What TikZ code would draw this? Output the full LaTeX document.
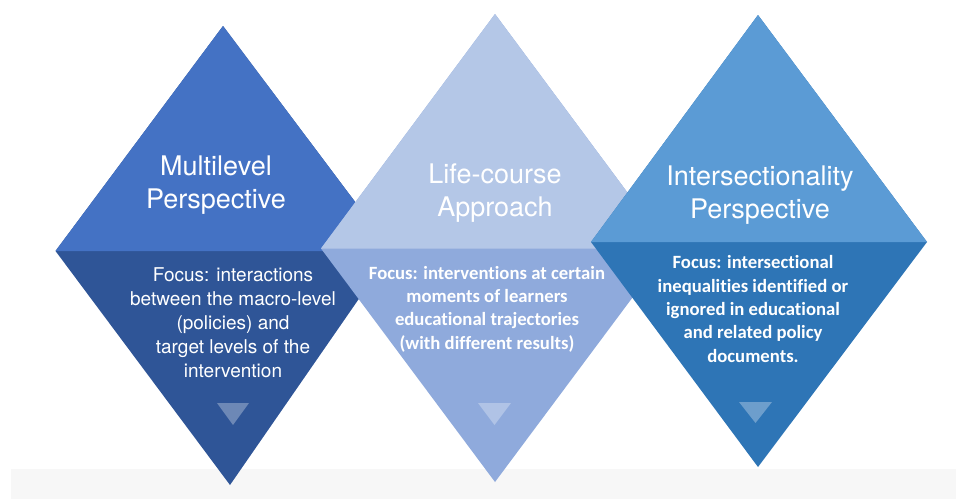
\documentclass[tikz,border=0pt]{standalone}
\usepackage{fontspec}
\setmainfont{TeX Gyre Heros}
\newfontfamily\calib[Ligatures={NoCommon}]{Carlito}
\definecolor{lup}{HTML}{4472C4}
\definecolor{llo}{HTML}{2F5597}
\definecolor{mup}{HTML}{B4C7E7}
\definecolor{mlo}{HTML}{8FAADC}
\definecolor{rup}{HTML}{5B9BD5}
\definecolor{rlo}{HTML}{2E75B6}
\definecolor{bandgray}{HTML}{F7F7F7}
\begin{document}
\begin{tikzpicture}[x=1pt,y=-1pt,
  title/.style={text=white,align=center,inner sep=0pt,font=\fontsize{27}{33.5}\selectfont},
  focusA/.style={text=white,align=center,inner sep=0pt,font=\fontsize{19}{24}\selectfont},
  focusB/.style={text=white,align=center,inner sep=0pt,font=\calib\bfseries\fontsize{18.7}{23.3}\selectfont},
  marker/.style={fill=white,fill opacity=0.3}]
\useasboundingbox (0,0) rectangle (956,499);
\fill[bandgray] (11,469) rectangle (956,499);
% left diamond
\fill[llo] (223,26) -- (55.5,251) -- (230,485) -- (392,251) -- cycle;
\fill[lup] (223,26) -- (55.5,251) -- (392,251) -- cycle;
\fill[marker] (217,403) -- (249,403) -- (233,425) -- cycle;
\node[title] (t1) at (216,185) {Multilevel\\Perspective};
\node[focusA] (f1) at (233,323) {Focus: interactions\\between the macro-level\\(policies) and\\target levels of the\\intervention};
% middle diamond
\fill[mlo] (495,14) -- (321,248.5) -- (495,482) -- (669,248.5) -- cycle;
\fill[mup] (495,14) -- (321,248.5) -- (669,248.5) -- cycle;
\fill[marker] (478,403) -- (511,403) -- (494.5,425) -- cycle;
\node[title] (t2) at (495,193) {Life-course\\Approach};
\node[focusB] (f2) at (487,309) {Focus: interventions at certain\\moments of learners\\educational trajectories\\(with different results)};
% right diamond
\fill[rlo] (758,15) -- (591,242) -- (758,467) -- (927,242) -- cycle;
\fill[rup] (758,15) -- (591,242) -- (927,242) -- cycle;
\fill[marker] (739,402) -- (772,402) -- (755.5,423) -- cycle;
\node[title] (t3) at (760,195) {Intersectionality\\Perspective};
\node[focusB] (f3) at (753,309) {Focus: intersectional\\inequalities identified or\\ignored in educational\\and related policy\\documents.};
\end{tikzpicture}
\end{document}
